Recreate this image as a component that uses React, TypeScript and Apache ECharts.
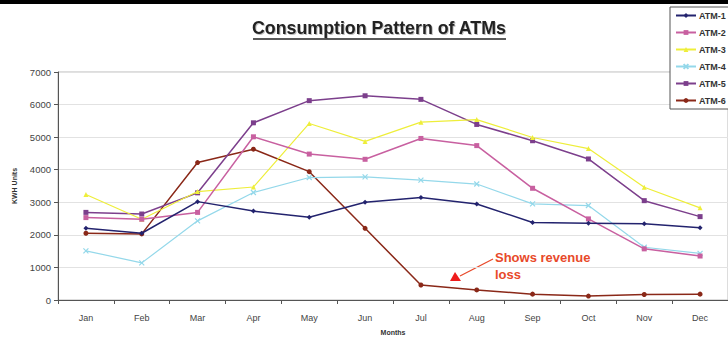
import React, { useEffect, useRef } from "react";
import * as echarts from "echarts";

const months = ["Jan", "Feb", "Mar", "Apr", "May", "Jun", "Jul", "Aug", "Sep", "Oct", "Nov", "Dec"];
const atm1 = [2200, 2050, 3020, 2730, 2540, 3000, 3150, 2950, 2380, 2360, 2340, 2220];
const atm2 = [2530, 2480, 2690, 5010, 4480, 4320, 4960, 4740, 3430, 2490, 1570, 1350];
const atm3 = [3240, 2480, 3330, 3470, 5420, 4870, 5460, 5540, 4990, 4650, 3460, 2830];
const atm4 = [1510, 1140, 2430, 3300, 3760, 3780, 3680, 3560, 2950, 2900, 1620, 1430];
const atm5 = [2690, 2640, 3290, 5440, 6120, 6270, 6160, 5390, 4890, 4330, 3050, 2560];
const atm6 = [2050, 2030, 4220, 4630, 3940, 2200, 460, 310, 180, 120, 170, 180];
const seriesNames = ["ATM-1", "ATM-2", "ATM-3", "ATM-4", "ATM-5", "ATM-6"];
const seriesData = [atm1, atm2, atm3, atm4, atm5, atm6];
const seriesColors = ["#23236e", "#c860a0", "#eeee3a", "#94d8ea", "#7c3f8c", "#8a2818"];
const seriesSymbols = ["diamond", "rect", "triangle", "path://M0,0L10,10M10,0L0,10", "rect", "circle"];

export default function App() {
  const ref = useRef<HTMLDivElement>(null);
  useEffect(() => {
    const chart = echarts.init(ref.current!, null, { renderer: "svg" });
    chart.setOption({
      animation: false,
      backgroundColor: "#fff",
      textStyle: { fontFamily: "Liberation Sans, Arial, sans-serif" },
      grid: { left: 58, right: 0, top: 72, bottom: 42, show: true, borderColor: "#bbb", borderWidth: 1 },
      legend: {
        orient: "vertical",
        left: 670,
        top: 7,
        itemWidth: 20,
        itemHeight: 6,
        itemGap: 8,
        padding: [4, 8, 4, 5],
        backgroundColor: "#fff",
        borderColor: "#555",
        borderWidth: 1,
        textStyle: { fontSize: 9, fontWeight: "bold", color: "#333", padding: [0, 0, 0, -2] },
        data: seriesNames,
      },
      xAxis: {
        type: "category",
        data: months,
        boundaryGap: true,
        name: "Months",
        nameLocation: "middle",
        nameGap: 29,
        nameTextStyle: { fontSize: 7, fontWeight: "bold", color: "#333" },
        axisLine: { lineStyle: { color: "#555" } },
        axisTick: { show: true, length: 4, lineStyle: { color: "#555" } },
        axisLabel: { fontSize: 9, color: "#444", margin: 13 },
      },
      yAxis: {
        type: "value",
        min: 0,
        max: 7000,
        interval: 1000,
        name: "KWH Units",
        nameLocation: "middle",
        nameGap: 40,
        nameTextStyle: { fontSize: 7, fontWeight: "bold", color: "#333" },
        axisLine: { show: true, lineStyle: { color: "#555" } },
        axisTick: { show: true, length: 4, lineStyle: { color: "#555" } },
        axisLabel: { fontSize: 9.5, color: "#444", margin: 7, formatter: (v: number) => String(v) },
        splitLine: { lineStyle: { color: "#e2e2e2" } },
      },
      series: seriesNames.map((n, i) => ({
        name: n,
        type: "line",
        data: seriesData[i],
        symbol: seriesSymbols[i],
        symbolSize: 5,
        showAllSymbol: true,
        lineStyle: { color: seriesColors[i], width: i === 3 || i === 2 ? 1.2 : 1.5 },
        itemStyle: { color: seriesColors[i], borderColor: seriesColors[i], borderWidth: i === 3 ? 1.2 : 0 },
        z: 10 - i,
      })),
      graphic: [
        { type: "rect", shape: { x: 0, y: 0, width: 728, height: 4 }, style: { fill: "#000" }, z: 100 },
        {
          type: "text",
          left: 252,
          top: 19,
          style: {
            text: "Consumption Pattern of ATMs",
            fontSize: 17.8,
            fontWeight: "bold",
            fill: "#222",
            fontFamily: "Liberation Sans, Arial, sans-serif",
            textShadowColor: "rgba(0,0,0,0.25)",
            textShadowOffsetX: 1,
            textShadowOffsetY: 1,
            textShadowBlur: 1,
          },
        },
        { type: "line", shape: { x1: 253, y1: 39, x2: 506, y2: 39 }, style: { stroke: "#222", lineWidth: 1.5 } },
        {
          type: "text",
          left: 495,
          top: 249,
          style: {
            text: "Shows revenue\nloss",
            fontSize: 13,
            fontWeight: "bold",
            fill: "#e8492a",
            lineHeight: 17,
            fontFamily: "Liberation Sans, Arial, sans-serif",
          },
        },
        { type: "line", shape: { x1: 493, y1: 259, x2: 460, y2: 276 }, style: { stroke: "#e8492a", lineWidth: 1.3 } },
        { type: "polygon", shape: { points: [[455, 272], [450, 281], [461, 281]] }, style: { fill: "#ee1c1c" } },
      ],
    });
    return () => chart.dispose();
  }, []);
  return <div ref={ref} style={{ width: 728, height: 342, position: "absolute", left: 0, top: 0 }} />;
}
